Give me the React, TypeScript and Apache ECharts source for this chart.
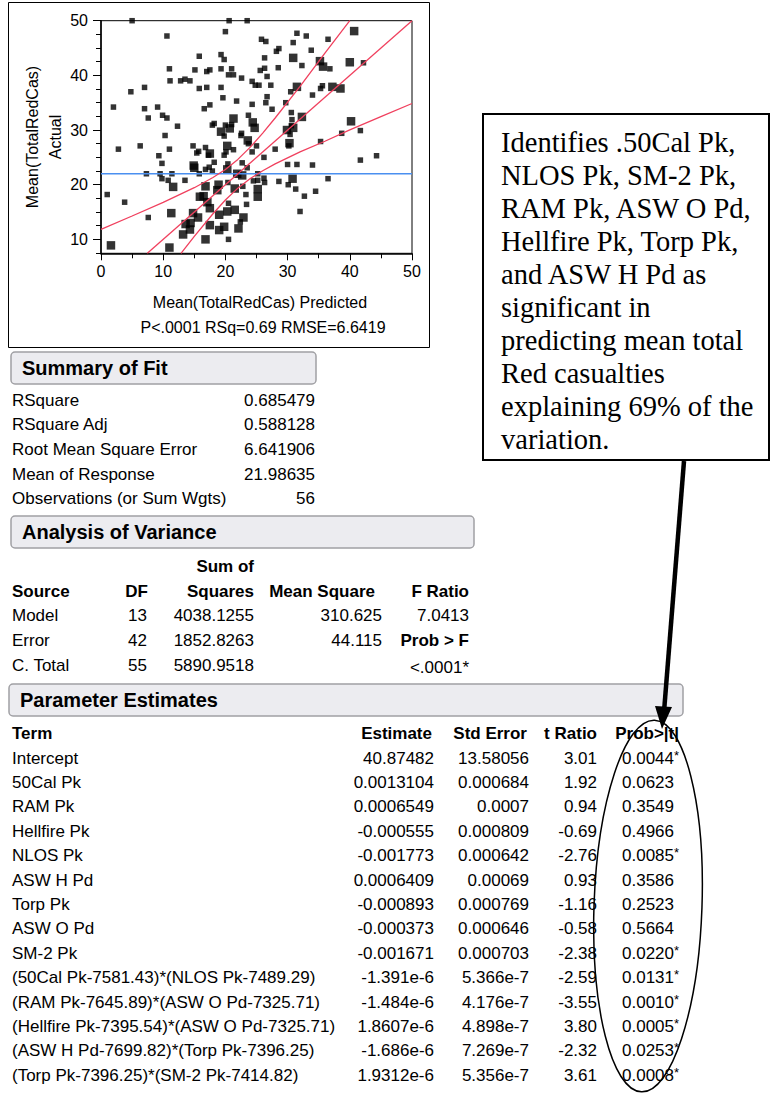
import React, { useEffect, useRef } from "react";
import * as echarts from "echarts";

// ---------- Data ----------
const smallPoints: [number, number][] = [
  [5.0, 50], [20.6, 50], [23.5, 50], [24.3, 50.3],
  [10.6, 47.2], [20.0, 48.0], [31.5, 47.7], [33.0, 47.2], [25.8, 46.6], [26.5, 46.2], [36.5, 46.6], [30.9, 46.0],
  [15.8, 43.5], [19.3, 43.8], [19.8, 42.9], [33.8, 44.6], [26.3, 43.2], [28.2, 44.4], [28.6, 44.9],
  [36.8, 41.2], [42.2, 42.3], [32.3, 41.8], [11.0, 41.2], [15.1, 41.0], [17.0, 40.7], [17.5, 41.0], [19.3, 41.2],
  [21.0, 41.2], [20.5, 40.1], [21.3, 40.1], [22.6, 39.5], [25.6, 40.9], [26.3, 41.3], [28.5, 41.4],
  [11.1, 39.0], [12.8, 39.0], [13.5, 39.3], [14.3, 39.0], [24.3, 38.9], [24.8, 38.2], [25.4, 38.2], [26.7, 39.8], [27.3, 38.2],
  [4.8, 37.0], [7.0, 37.8], [15.8, 37.6], [17.0, 37.8], [19.3, 37.8], [35.3, 37.6], [35.6, 38.1],
  [2.0, 34.2], [7.0, 33.9], [7.6, 32.2], [9.1, 34.2], [9.9, 32.7], [10.6, 32.2], [12.3, 30.7], [10.3, 29.0],
  [17.5, 34.6], [16.6, 33.9], [19.6, 35.9], [21.8, 35.3], [24.3, 34.7], [26.7, 36.1], [26.5, 35.0], [27.5, 33.8],
  [29.7, 35.0], [30.5, 37.0], [34.0, 36.4], [30.6, 33.2], [30.7, 31.9],
  [23.7, 32.7], [17.9, 30.9], [18.2, 31.2], [20.0, 30.9], [21.0, 31.0], [19.8, 28.9], [22.6, 29.4], [22.5, 29.0],
  [30.6, 30.8], [30.4, 29.2],
  [41.7, 29.9], [38.7, 29.4], [35.3, 27.9], [30.2, 27.1], [23.7, 27.5], [14.8, 27.1], [11.0, 26.5], [6.3, 27.1],
  [2.8, 26.5], [25.0, 27.1],
  [15.4, 25.8], [15.7, 26.1], [16.8, 26.8], [19.8, 25.4], [20.1, 26.0], [21.3, 26.4], [24.3, 26.0], [26.2, 25.0], [28.0, 26.5],
  [17.3, 25.4],
  [9.3, 25.3], [9.8, 23.9], [15.8, 22.0], [16.8, 22.8], [17.4, 23.2], [17.9, 22.5], [18.2, 24.1], [20.4, 23.8],
  [22.7, 24.0], [23.5, 23.1],
  [25.2, 22.0], [25.2, 20.8], [26.2, 21.2], [26.3, 20.4], [28.6, 20.6], [30.0, 23.7], [31.5, 23.7], [34.0, 23.6],
  [30.1, 20.0], [31.3, 19.2], [32.7, 17.9], [34.5, 18.8], [32.0, 15.1], [36.5, 21.1], [41.7, 24.5], [44.3, 25.3],
  [7.3, 22.0], [9.5, 22.0], [9.8, 21.1], [11.4, 22.0], [10.8, 20.8], [13.5, 20.8], [1.0, 18.2], [3.8, 16.8], [7.6, 14.0],
  [20.5, 10.0], [20.5, 16.6], [20.4, 20.4], [22.8, 19.7], [23.3, 18.2], [23.4, 16.4], [22.4, 13.2], [24.5, 20.7],
];

const largePoints: [number, number][] = [
  [40.7, 48.1], [30.9, 43.2], [35.2, 42.6], [35.7, 41.6], [40.0, 42.4], [31.5, 37.9], [37.2, 37.9], [38.5, 37.6],
  [32.3, 32.4], [21.3, 32.1], [24.4, 31.4], [24.7, 30.4], [20.7, 30.3], [19.3, 29.7], [29.9, 30.0], [30.9, 30.4],
  [40.2, 31.6], [30.3, 27.6], [23.6, 28.1], [20.3, 27.1], [17.5, 25.7], [14.9, 23.5], [15.0, 23.1], [20.3, 22.8],
  [21.9, 22.0], [22.7, 21.7], [30.8, 21.1],
  [11.6, 19.6], [11.3, 14.8], [1.6, 8.9], [11.0, 8.5], [13.6, 12.8], [14.4, 13.0], [13.2, 10.9], [14.3, 11.8],
  [14.8, 14.8], [15.6, 14.0], [15.9, 17.8], [16.8, 19.7], [16.5, 17.9], [17.1, 16.8], [17.5, 15.7], [16.8, 10.0],
  [17.5, 12.6], [18.9, 20.0], [18.7, 19.0], [19.0, 14.5], [19.0, 11.7], [19.8, 12.3], [20.3, 15.1], [21.5, 19.3],
  [21.5, 15.4], [22.1, 12.0], [22.9, 14.0], [25.2, 19.2], [25.2, 17.8],
];

const fitLine: [number, number][] = [[7.45, 7.45], [50, 50]];
const upperCurve: [number, number][] = [
  [0, 11.83], [5, 14.27], [10, 16.77], [15, 19.45], [18, 21.31], [20, 22.79], [22, 24.63],
  [24, 26.87], [26, 29.44], [28, 32.2], [32, 38.0], [36, 44.05], [40, 50],
];
const lowerCurve: [number, number][] = [
  [12.86, 7.45], [15, 10.55], [18, 14.69], [20, 17.21], [22, 19.37], [24, 21.13], [26, 22.56],
  [28, 23.8], [32, 26.0], [36, 27.95], [40, 30.02], [45, 32.45], [50, 34.85],
];

const yTickLabels = [10, 20, 30, 40, 50];
const yMinorTicks = [7.5, 12.5, 15, 17.5, 22.5, 25, 27.5, 32.5, 35, 37.5, 42.5, 45, 47.5];

const plotXTitle = "Mean(TotalRedCas) Predicted";
const plotYTitle = "Mean(TotalRedCas)";
const plotYSub = "Actual";
const plotStats = "P<.0001 RSq=0.69 RMSE=6.6419";

const summaryLabels = ["RSquare", "RSquare Adj", "Root Mean Square Error", "Mean of Response", "Observations (or Sum Wgts)"];
const summaryValues = ["0.685479", "0.588128", "6.641906", "21.98635", "56"];
const meanOfResponse = 21.98635;

const anovaSources = ["Model", "Error", "C. Total"];
const anovaDF = ["13", "42", "55"];
const anovaSS = ["4038.1255", "1852.8263", "5890.9518"];
const anovaMS = ["310.625", "44.115", ""];
const anovaF = ["7.0413", "Prob > F", "<.0001*"];

const paramTerms = [
  "Intercept", "50Cal Pk", "RAM Pk", "Hellfire Pk", "NLOS Pk", "ASW H Pd", "Torp Pk", "ASW O Pd", "SM-2 Pk",
  "(50Cal Pk-7581.43)*(NLOS Pk-7489.29)", "(RAM Pk-7645.89)*(ASW O Pd-7325.71)",
  "(Hellfire Pk-7395.54)*(ASW O Pd-7325.71)", "(ASW H Pd-7699.82)*(Torp Pk-7396.25)",
  "(Torp Pk-7396.25)*(SM-2 Pk-7414.82)",
];
const paramEstimates = [
  "40.87482", "0.0013104", "0.0006549", "-0.000555", "-0.001773", "0.0006409", "-0.000893", "-0.000373",
  "-0.001671", "-1.391e-6", "-1.484e-6", "1.8607e-6", "-1.686e-6", "1.9312e-6",
];
const paramStdErrors = [
  "13.58056", "0.000684", "0.0007", "0.000809", "0.000642", "0.00069", "0.000769", "0.000646", "0.000703",
  "5.366e-7", "4.176e-7", "4.898e-7", "7.269e-7", "5.356e-7",
];
const paramTRatios = ["3.01", "1.92", "0.94", "-0.69", "-2.76", "0.93", "-1.16", "-0.58", "-2.38", "-2.59", "-3.55", "3.80", "-2.32", "3.61"];
const paramProbs = [
  "0.0044*", "0.0623", "0.3549", "0.4966", "0.0085*", "0.3586", "0.2523", "0.5664", "0.0220*", "0.0131*",
  "0.0010*", "0.0005*", "0.0253*", "0.0008*",
];

const annotationLines = [
  "Identifies .50Cal Pk,", "NLOS Pk, SM-2 Pk,", "RAM Pk, ASW O Pd,", "Hellfire Pk, Torp Pk,", "and ASW H Pd as",
  "significant in", "predicting mean total", "Red casualties", "explaining 69% of the", "variation.",
];

const SANS = '"Liberation Sans", Arial, sans-serif';
const SERIF = '"Liberation Serif", "Times New Roman", serif';

function txt(x: number, y: number, text: string, o: any = {}): any {
  return {
    type: "text",
    x,
    y,
    rotation: o.rotation || 0,
    style: {
      text,
      fill: "#000",
      fontSize: o.size || 17,
      fontFamily: o.family || SANS,
      fontWeight: o.bold ? "bold" : "normal",
      align: o.align || "left",
      verticalAlign: "middle",
    },
  };
}

function header(x: number, y: number, w: number, h: number, label: string): any[] {
  return [
    {
      type: "rect",
      shape: { x, y, width: w, height: h, r: 4 },
      style: { fill: "#ececf0", stroke: "#a0a0a4", lineWidth: 1.5 },
    },
    txt(x + 11, y + h / 2, label, { bold: true, size: 20 }),
  ];
}

export default function App() {
  const ref = useRef<HTMLDivElement>(null);
  useEffect(() => {
    document.body.style.margin = "0";
    if (!ref.current) return;
    const chart = echarts.init(ref.current, undefined, { renderer: "svg" });

    const g: any[] = [];
    // plot frame
    g.push({ type: "rect", shape: { x: 8.5, y: 2.5, width: 421, height: 345 }, style: { fill: "none", stroke: "#000", lineWidth: 1 } });
    g.push(txt(32, 137, plotYTitle, { size: 16, align: "center", rotation: Math.PI / 2 }));
    g.push(txt(55, 137, plotYSub, { size: 16, align: "center", rotation: Math.PI / 2 }));
    g.push(txt(260, 302, plotXTitle, { size: 16, align: "center" }));
    g.push(txt(263, 327, plotStats, { size: 16, align: "center" }));

    // Summary of Fit
    g.push(...header(11, 352, 305, 32, "Summary of Fit"));
    summaryLabels.forEach((l, i) => {
      const y = 400 + i * 24.7;
      g.push(txt(12, y, l));
      g.push(txt(315, y, summaryValues[i], { align: "right" }));
    });

    // Analysis of Variance
    g.push(...header(11, 516, 463, 32, "Analysis of Variance"));
    g.push(txt(254, 566, "Sum of", { bold: true, align: "right" }));
    g.push(txt(12, 591, "Source", { bold: true }));
    g.push(txt(148, 591, "DF", { bold: true, align: "right" }));
    g.push(txt(254, 591, "Squares", { bold: true, align: "right" }));
    g.push(txt(375, 591, "Mean Square", { bold: true, align: "right" }));
    g.push(txt(469, 591, "F Ratio", { bold: true, align: "right" }));
    anovaSources.forEach((s, i) => {
      const y = 615 + i * 25;
      g.push(txt(12, y, s));
      g.push(txt(147, y, anovaDF[i], { align: "right" }));
      g.push(txt(254, y, anovaSS[i], { align: "right" }));
      if (anovaMS[i]) g.push(txt(382, y, anovaMS[i], { align: "right" }));
      g.push(txt(469, y + (i === 2 ? 2 : 0), anovaF[i], { align: "right", bold: i === 1 }));
    });

    // Parameter Estimates
    g.push(...header(9, 684, 674, 32, "Parameter Estimates"));
    g.push(txt(12, 733, "Term", { bold: true }));
    g.push(txt(432, 733, "Estimate", { bold: true, align: "right" }));
    g.push(txt(527, 733, "Std Error", { bold: true, align: "right" }));
    g.push(txt(597, 733, "t Ratio", { bold: true, align: "right" }));
    g.push(txt(679, 733, "Prob>|t|", { bold: true, align: "right" }));
    paramTerms.forEach((t, i) => {
      const y = 758 + i * 24.4;
      g.push(txt(12, y, t));
      g.push(txt(434, y, paramEstimates[i], { align: "right" }));
      g.push(txt(529, y, paramStdErrors[i], { align: "right" }));
      g.push(txt(597, y, paramTRatios[i], { align: "right" }));
      const p = paramProbs[i];
      const star = p.endsWith("*");
      g.push(txt(674, y, star ? p.slice(0, -1) : p, { align: "right" }));
      if (star) g.push(txt(674, y - 3, "*", { size: 13 }));
    });

    // annotation box
    g.push({ type: "rect", shape: { x: 483, y: 114, width: 286, height: 346 }, style: { fill: "#fff", stroke: "#000", lineWidth: 2 } });
    annotationLines.forEach((l, i) => {
      g.push(txt(501, 142 + i * 33, l, { family: SERIF, size: 28.5 }));
    });
    // arrow
    g.push({ type: "line", shape: { x1: 684, y1: 461, x2: 664, y2: 712 }, style: { stroke: "#000", lineWidth: 4.5 } });
    g.push({ type: "polygon", shape: { points: [[655, 706], [672, 707], [662, 729]] }, style: { fill: "#000" } });
    // ellipse
    g.push({
      type: "ellipse",
      x: 648,
      y: 906,
      rotation: -0.035,
      shape: { cx: 0, cy: 0, rx: 54, ry: 186 },
      style: { fill: "none", stroke: "#000", lineWidth: 1.5 },
    });

    const axisLabelStyle = { color: "#000", fontSize: 16, fontFamily: SANS };
    chart.setOption({
      animation: false,
      grid: { left: 101, top: 20.7, width: 311, height: 232.6, show: true, borderColor: "#000", borderWidth: 1 },
      xAxis: {
        type: "value",
        min: 0,
        max: 50,
        interval: 10,
        axisLine: { lineStyle: { color: "#000", width: 1.5 } },
        axisTick: { length: 7, lineStyle: { color: "#000" } },
        minorTick: { show: true, splitNumber: 2, length: 5, lineStyle: { color: "#000" } },
        axisLabel: { ...axisLabelStyle, margin: 10 },
        splitLine: { show: false },
      },
      yAxis: [
        {
          type: "value",
          min: 7.45,
          max: 50,
          axisLine: { lineStyle: { color: "#000", width: 1.5 } },
          axisTick: { length: 8, customValues: yTickLabels, lineStyle: { color: "#000" } },
          axisLabel: { ...axisLabelStyle, margin: 13, customValues: yTickLabels },
          splitLine: { show: false },
        },
        {
          type: "value",
          position: "left",
          min: 7.45,
          max: 50,
          axisLine: { show: false },
          axisTick: { length: 5, customValues: yMinorTicks, lineStyle: { color: "#000" } },
          axisLabel: { show: false },
          splitLine: { show: false },
        },
      ],
      series: [
        {
          type: "scatter",
          data: smallPoints,
          symbol: "rect",
          symbolSize: 5.5,
          itemStyle: { color: "#000" },
          silent: true,
        },
        {
          type: "scatter",
          data: largePoints,
          symbol: "rect",
          symbolSize: 8.5,
          itemStyle: { color: "#000" },
          silent: true,
        },
        {
          type: "line",
          data: [[0, meanOfResponse], [50, meanOfResponse]],
          showSymbol: false,
          lineStyle: { color: "#4a8ff0", width: 1.5 },
          silent: true,
        },
        { type: "line", data: fitLine, showSymbol: false, lineStyle: { color: "#f0405e", width: 1.3 }, silent: true },
        { type: "line", data: upperCurve, showSymbol: false, lineStyle: { color: "#f0405e", width: 1.3 }, silent: true },
        { type: "line", data: lowerCurve, showSymbol: false, lineStyle: { color: "#f0405e", width: 1.3 }, silent: true },
      ],
      graphic: g,
    });
    return () => chart.dispose();
  }, []);
  return <div ref={ref} style={{ width: 772, height: 1096 }} />;
}
